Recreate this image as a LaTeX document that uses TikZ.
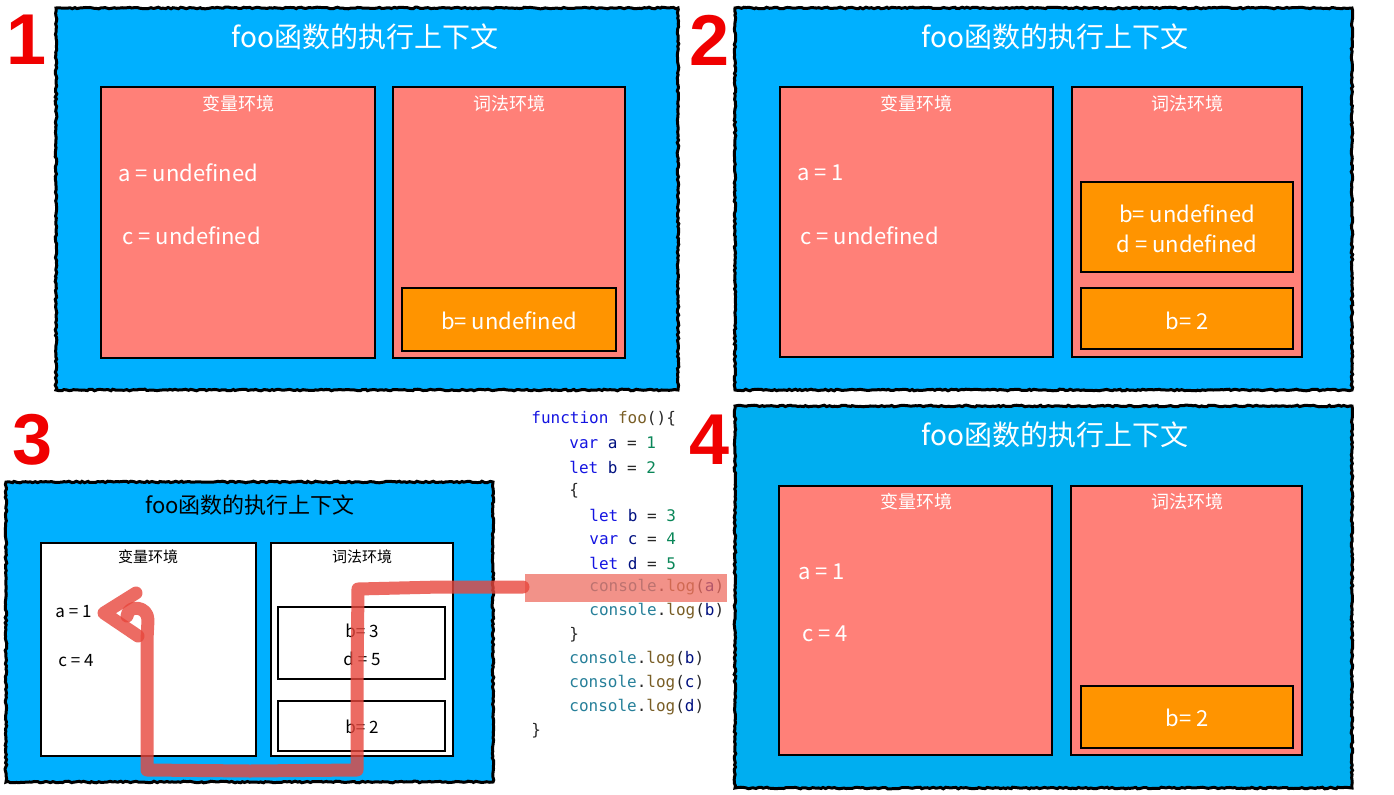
\documentclass[tikz,border=0pt]{standalone}
\usepackage{fontspec}
\newfontfamily\cjk{Noto Sans CJK SC}
\newfontfamily\codef{DejaVu Sans Mono}
\newfontfamily\numf{Liberation Sans}
\usetikzlibrary{decorations.pathmorphing}
\definecolor{ctxblue}{RGB}{0,176,255}
\definecolor{ctxblueb}{RGB}{0,174,240}
\definecolor{salmonf}{RGB}{255,128,120}
\definecolor{orng}{RGB}{255,148,0}
\definecolor{kw}{RGB}{20,20,225}
\definecolor{fn}{RGB}{121,94,38}
\definecolor{idf}{RGB}{0,16,128}
\definecolor{numc}{RGB}{9,134,88}
\definecolor{cons}{RGB}{38,127,153}
\definecolor{punc}{RGB}{40,40,40}
\definecolor{trail}{RGB}{232,70,60}
\definecolor{hilite}{RGB}{238,110,98}
\definecolor{bignumc}{RGB}{240,0,0}
\tikzset{
  rough/.style={draw=black, line width=1.5pt, decorate,
    decoration={random steps, segment length=1.3pt, amplitude=0.4pt}},
  envbox/.style={fill=salmonf, draw=black, line width=1pt},
  obox/.style={fill=orng, draw=black, line width=1pt},
  wbox/.style={fill=white, draw=black, line width=0.8pt},
  ttl/.style={font=\cjk\fontsize{14}{16}\selectfont, text=white, inner sep=0},
  subt/.style={font=\cjk\fontsize{9}{11}\selectfont, text=white, inner sep=0},
  val/.style={font=\cjk\fontsize{11}{13}\selectfont, text=white, inner sep=0, align=center},
  ttlb/.style={font=\cjk\fontsize{11}{13}\selectfont, text=black, inner sep=0},
  subtb/.style={font=\cjk\fontsize{7.5}{9}\selectfont, text=black, inner sep=0},
  valb/.style={font=\cjk\fontsize{8.5}{12}\selectfont, text=black, inner sep=0, align=center},
  bignum/.style={font=\numf\bfseries\fontsize{36}{40}\selectfont, text=bignumc, inner sep=0},
  codeln/.style={font=\codef\fontsize{8}{10}\selectfont, anchor=west, inner sep=0, text=punc},
  trailline/.style={draw=trail, draw opacity=0.8, line width=6.5pt, line cap=round, line join=round}
}
\newcommand{\kwd}[1]{\textcolor{kw}{#1}}
\newcommand{\fnn}[1]{\textcolor{fn}{#1}}
\newcommand{\idn}[1]{\textcolor{idf}{#1}}
\newcommand{\nmb}[1]{\textcolor{numc}{#1}}
\newcommand{\csl}[1]{\textcolor{cons}{console}.\textcolor{fn}{log}(\textcolor{idf}{#1})}
\begin{document}
\begin{tikzpicture}[x=0.5pt,y=-0.5pt]
\useasboundingbox (0,0) rectangle (1394,794);
\pgfmathsetseed{7}
% ---------- Panel 1 ----------
\node[bignum] (n1) at (27,40) {1};
\fill[ctxblue] (56,8) rectangle (678,390);
\draw[rough] (56,8) rectangle (678,390);
\node[ttl] (t1) at (365,37) {foo函数的执行上下文};
\draw[envbox] (101,87) rectangle (375,358);
\draw[envbox] (393,87) rectangle (625,358);
\draw[obox] (402,288) rectangle (616,351);
\node[subt] (v1) at (238,104) {变量环境};
\node[subt] (l1) at (509,104) {词法环境};
\node[val, anchor=west] (a1) at (118,173) {a = undefined};
\node[val, anchor=west] (c1) at (122,236) {c = undefined};
\node[val] (b1) at (509,321) {b= undefined};
% ---------- Panel 2 ----------
\node[bignum] (n2) at (710,40) {2};
\fill[ctxblue] (735,8) rectangle (1352,390);
\draw[rough] (735,8) rectangle (1352,390);
\node[ttl] (t2) at (1055,37) {foo函数的执行上下文};
\draw[envbox] (780,87) rectangle (1053,357);
\draw[envbox] (1072,87) rectangle (1302,357);
\draw[obox] (1081,182) rectangle (1293,272);
\draw[obox] (1081,288) rectangle (1293,349);
\node[subt] (v2) at (916,104) {变量环境};
\node[subt] (l2) at (1187,104) {词法环境};
\node[val, anchor=west] (a2) at (797,173) {a = 1};
\node[val, anchor=west] (c2) at (800,236) {c = undefined};
\node[val] (bd2) at (1187,229) {b= undefined\\[2pt]d = undefined};
\node[val] (b2) at (1187,321) {b= 2};
% ---------- Panel 3 ----------
\node[bignum] (n3) at (33,440) {3};
\fill[ctxblue] (6,482) rectangle (493,782);
\draw[rough] (6,482) rectangle (493,782);
\node[ttlb] (t3) at (250,505) {foo函数的执行上下文};
\draw[wbox] (41,543) rectangle (256,756);
\draw[wbox] (271,543) rectangle (453,756);
\draw[wbox] (278,607) rectangle (445,679);
\draw[wbox] (278,701) rectangle (445,751);
\node[subtb] (v3) at (148,557) {变量环境};
\node[subtb] (l3) at (362,557) {词法环境};
\node[valb, anchor=west] (a3) at (55,612) {a = 1};
\node[valb, anchor=west] (c3) at (58,661) {c = 4};
\node[valb] (bd3) at (362,645) {b= 3\\[2pt]d = 5};
\node[valb] (b3) at (362,727) {b= 2};
% ---------- Panel 4 ----------
\node[bignum] (n4) at (710,440) {4};
\fill[ctxblueb] (735,406) rectangle (1352,788);
\draw[rough] (735,406) rectangle (1352,788);
\node[ttl] (t4) at (1055,435) {foo函数的执行上下文};
\draw[envbox] (779,486) rectangle (1052,755);
\draw[envbox] (1071,486) rectangle (1302,755);
\draw[obox] (1081,686) rectangle (1293,748);
\node[subt] (v4) at (916,502) {变量环境};
\node[subt] (l4) at (1187,502) {词法环境};
\node[val, anchor=west] (a4) at (798,572) {a = 1};
\node[val, anchor=west] (c4) at (802,634) {c = 4};
\node[val] (b4) at (1187,718) {b= 2};
% ---------- Code ----------
\node[codeln] (k1) at (531,419) {\kwd{function} \fnn{foo}()\{};
\node[codeln] (k2) at (569,443) {\kwd{var} \idn{a} = \nmb{1}};
\node[codeln] (k3) at (569,467) {\kwd{let} \idn{b} = \nmb{2}};
\node[codeln] (k4) at (569,491) {\{};
\node[codeln] (k5) at (589,515) {\kwd{let} \idn{b} = \nmb{3}};
\node[codeln] (k6) at (589,539) {\kwd{var} \idn{c} = \nmb{4}};
\node[codeln] (k7) at (589,563) {\kwd{let} \idn{d} = \nmb{5}};
\node[codeln] (k8) at (589,587) {\csl{a}};
\node[codeln] (k9) at (589,611) {\csl{b}};
\node[codeln] (k10) at (569,635) {\}};
\node[codeln] (k11) at (569,659) {\csl{b}};
\node[codeln] (k12) at (569,683) {\csl{c}};
\node[codeln] (k13) at (569,707) {\csl{d}};
\node[codeln] (k14) at (531,731) {\}};
\fill[hilite, opacity=0.75] (525,574) rectangle (727,602);
% ---------- red trail ----------
\coordinate (start) at (523,587);
\coordinate (tip) at (104,613);
\draw[trailline] (start) -- (440,587) -- (358,589) -- (357,680) -- (357,770)
  -- (250,771) -- (147,770) -- (147,640) -- (148,620)
  .. controls (148,606) and (128,604) .. (127,616);
\draw[trailline] (136,593) -- (tip) -- (138,636);
\end{tikzpicture}
\end{document}
